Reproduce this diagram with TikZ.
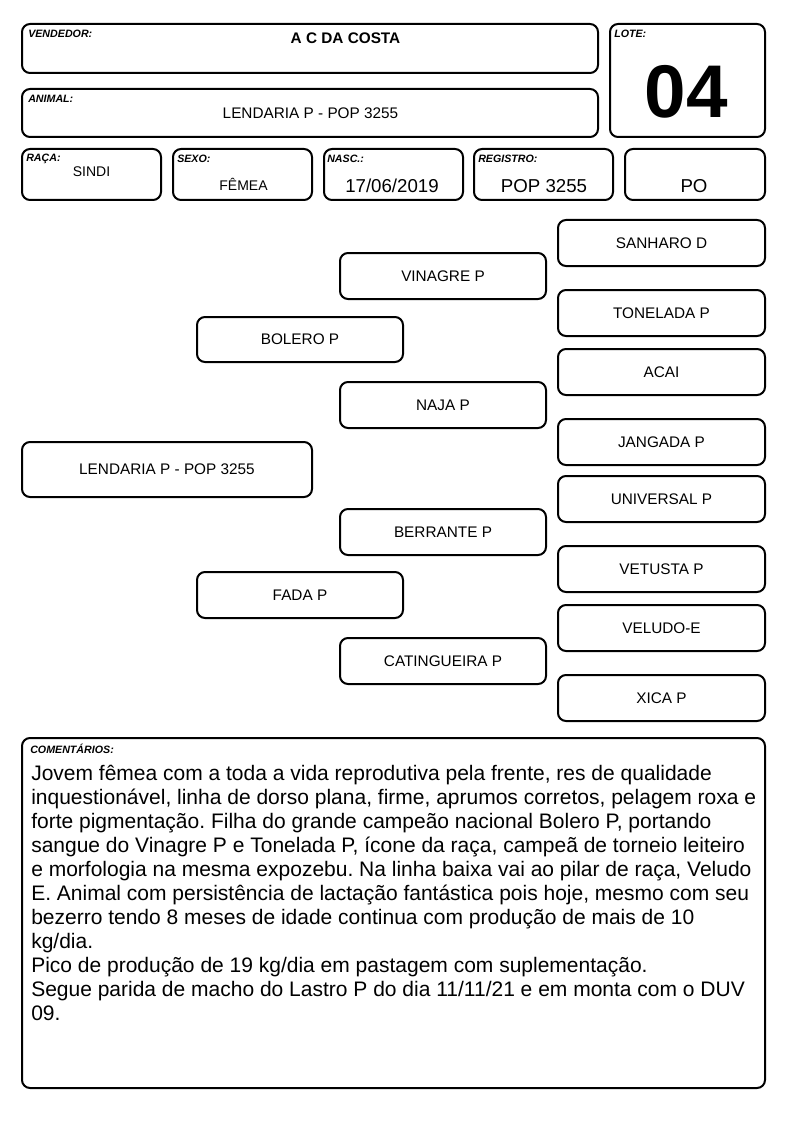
\documentclass[tikz,border=0pt]{standalone}
\usepackage{fontspec}
\setmainfont{Liberation Sans}
\usetikzlibrary{calc}
\frenchspacing
\begin{document}
\begin{tikzpicture}[x=0.75pt,y=-0.75pt,
  box/.style 2 args={draw, line width=1.5pt, rounded corners=6pt, inner sep=0pt,
    minimum width=#1*0.75pt-2*0.75pt, minimum height=#2*0.75pt-2*0.75pt},
  lbl/.style={anchor=north west, inner sep=0pt, font=\fontsize{8}{9}\selectfont\bfseries\itshape},
  ped/.style={font=\fontsize{11.5}{13}\selectfont},
  val/.style={inner sep=0pt, font=\fontsize{14}{16}\selectfont},
  sval/.style={inner sep=0pt, font=\fontsize{10.5}{12}\selectfont}]
\useasboundingbox[fill=white] (0,0) rectangle (794,1123);
% header boxes
\node[box={578}{51}] (vend) at (310,48.5) {};
\node[box={157}{115}] (lote) at (687.5,80.5) {};
\node[box={578}{50}] (anim) at (310,113) {};
\node[box={141}{53}] (raca) at (91.5,174.5) {};
\node[box={141}{53}] (sexo) at (242.5,174.5) {};
\node[box={141}{53}] (nasc) at (393.5,174.5) {};
\node[box={141}{53}] (reg) at (543.5,174.5) {};
\node[box={142}{53}] (po) at (695,174.5) {};
% labels
\node[lbl] (vendL) at ($(vend.north west)+(7,7)$) {VENDEDOR:};
\node[lbl] (loteL) at ($(lote.north west)+(5,7)$) {LOTE:};
\node[lbl] (animL) at ($(anim.north west)+(7,7)$) {ANIMAL:};
\node[lbl] (racaL) at ($(raca.north west)+(5,6)$) {RAÇA:};
\node[lbl] (sexoL) at ($(sexo.north west)+(5,7)$) {SEXO:};
\node[lbl] (nascL) at ($(nasc.north west)+(4,7)$) {NASC.:};
\node[lbl] (regL) at ($(reg.north west)+(5,7)$) {REGISTRO:};
% values
\node[inner sep=0pt, font=\fontsize{11.5}{13}\selectfont\bfseries] (vendV) at (345.5,38) {A C DA COSTA};
\node[inner sep=0pt, font=\fontsize{56}{60}\selectfont\bfseries] (loteV) at (686.5,92) {04};
\node[ped, inner sep=0pt] (animV) at (310.5,113) {LENDARIA P - POP 3255};
\node[sval] (racaV) at (91.5,172) {SINDI};
\node[sval] (sexoV) at (243.5,184) {FÊMEA};
\node[val] (nascV) at (392,186) {17/06/2019};
\node[val] (regV) at (544,186) {POP 3255};
\node[val] (poV) at (694,186) {PO};
% pedigree
\node[box={292}{57}, ped] (lend) at (167,469.5) {LENDARIA P - POP 3255};
\node[box={208}{47}, ped] (bolero) at (300,339.5) {BOLERO P};
\node[box={208}{48}, ped] (fada) at (300,595) {FADA P};
\node[box={208}{48}, ped] (vinagre) at (443,276) {VINAGRE P};
\node[box={208}{48}, ped] (naja) at (443,405) {NAJA P};
\node[box={208}{48}, ped] (berrante) at (443,532) {BERRANTE P};
\node[box={208}{48}, ped] (catingueira) at (443,661) {CATINGUEIRA P};
\node[box={209}{48}, ped] (sanharo) at (661.5,243) {SANHARO D};
\node[box={209}{48}, ped] (tonelada) at (661.5,313) {TONELADA P};
\node[box={209}{48}, ped] (acai) at (661.5,372) {ACAI};
\node[box={209}{48}, ped] (jangada) at (661.5,442) {JANGADA P};
\node[box={209}{48}, ped] (universal) at (661.5,499) {UNIVERSAL P};
\node[box={209}{48}, ped] (vetusta) at (661.5,569) {VETUSTA P};
\node[box={209}{48}, ped] (veludo) at (661.5,628) {VELUDO-E};
\node[box={209}{48}, ped] (xica) at (661.5,698) {XICA P};
% comments
\node[box={745}{352}] (com) at (393.5,913) {};
\node[lbl] (comL) at ($(com.north west)+(9,7)$) {COMENTÁRIOS:};
\node[anchor=north west, inner sep=0pt, align=left,
  font=\fontsize{15.75}{18}\selectfont] (comT) at (31,765)
{Jovem fêmea com a toda a vida reprodutiva pela frente, res de qualidade\\
inquestionável, linha de dorso plana, firme, aprumos corretos, pelagem roxa e\\
forte pigmentação. Filha do grande campeão nacional Bolero P, portando\\
sangue do Vinagre P e Tonelada P, ícone da raça, campeã de torneio leiteiro\\
e morfologia na mesma expozebu. Na linha baixa vai ao pilar de raça, Veludo\\
E. Animal com persistência de lactação fantástica pois hoje, mesmo com seu\\
bezerro tendo 8 meses de idade continua com produção de mais de 10\\
kg/dia.\\
Pico de produção de 19 kg/dia em pastagem com suplementação.\\
Segue parida de macho do Lastro P do dia 11/11/21 e em monta com o DUV\\
09.};
\end{tikzpicture}
\end{document}
